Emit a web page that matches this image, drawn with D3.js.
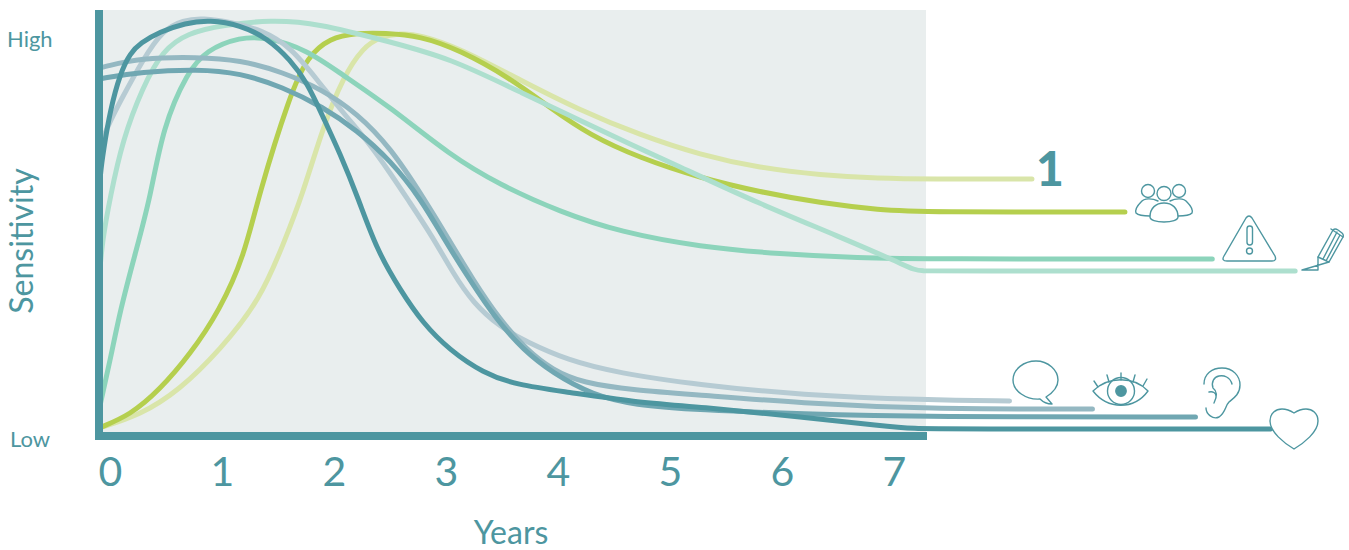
<!DOCTYPE html>
<html>
<head>
<meta charset="utf-8">
<script src="https://cdn.jsdelivr.net/npm/d3@7"></script>
<style>
  html, body { margin: 0; padding: 0; background: #fff; }
  svg { display: block; }
  text { font-family: Lato, "Open Sans", sans-serif; fill: #4d96a0; }
</style>
</head>
<body>
<svg id="chart"></svg>
<script>
const year_ticks = [0, 1, 2, 3, 4, 5, 6, 7];
const level_ticks = [0, 100];
const level_labels = ['Low', 'High'];

// years, sensitivity (Low = 0, High = 100)
const first_years = [0, .37, .72, 1.08, 1.44, 1.66, 1.81, 2.00, 2.18, 2.36, 2.51, 2.69, 2.87, 3.22, 3.76, 4.29, 4.83, 5.37, 5.90, 6.44, 6.97, 7.4, 8.33];
const first_values = [2.5, 5.75, 12, 22, 34.5, 49.5, 60.25, 77.75, 90.25, 97.75, 100.25, 101.25, 100.75, 97.5, 89.5, 82, 75.75, 70.75, 67.5, 65.75, 64.9, 64.75, 64.75];

const group_years = [0, .28, .54, .81, 1.08, 1.30, 1.42, 1.71, 1.86, 2.06, 2.30, 2.55, 2.87, 3.22, 3.67, 4.03, 4.38, 4.83, 5.37, 5.90, 6.44, 6.97, 7.38, 9.16];
const group_values = [2.5, 5.75, 12, 20.75, 32, 45.75, 60.25, 86.25, 95.25, 100, 101.25, 101.25, 100.5, 97, 90, 82.5, 75.75, 70, 65, 61.5, 58.75, 57, 56.5, 56.5];

const warning_years = [0, .10, .19, .32, .46, .57, .79, .96, 1.26, 1.50, 1.86, 2.15, 2.60, 3.13, 3.58, 4.12, 4.65, 5.37, 6.08, 6.79, 7.38, 9.94];
const warning_values = [7, 19.5, 32, 45.75, 60.25, 77.75, 91.5, 97, 100.25, 100.25, 97, 91.25, 82.75, 70.75, 63.25, 56.5, 51.5, 47.75, 46, 45, 44.75, 44.75];

const pencil_years = [0, .03, .10, .21, .39, .57, .79, 1.11, 1.53, 1.95, 2.60, 3.13, 3.76, 4.47, 5.19, 5.90, 6.62, 7.15, 7.28, 7.36, 7.45, 10.68];
const pencil_values = [39.5, 49.5, 60.25, 74.5, 87.75, 97, 101.25, 103.25, 104.5, 103.75, 99, 95, 86.5, 77, 67.75, 58.5, 50.25, 43.75, 42, 41.75, 41.75, 41.75];

const speech_years = [0, .01, .21, .39, .57, .75, .93, 1.17, 1.46, 1.71, 1.95, 2.18, 2.39, 2.60, 2.76, 2.98, 3.16, 3.34, 3.58, 3.82, 4.18, 4.63, 5.37, 6.26, 7.38, 8.13];
const speech_values = [68, 74.5, 85.25, 94.5, 102, 104.5, 105, 104, 102, 97.75, 89.5, 81.25, 74.5, 66.25, 59.5, 50.25, 41.25, 33.75, 27.75, 24, 19.5, 16.25, 13.25, 10.75, 9.5, 9.25];

const eye_years = [0, .04, .37, .88, 1.26, 1.64, 2.00, 2.30, 2.60, 2.91, 3.11, 3.34, 3.58, 3.82, 4.05, 4.32, 4.77, 5.37, 6.26, 7.38, 8.87];
const eye_values = [92.5, 92.75, 95, 95.25, 94.5, 91.5, 87, 81.25, 72.75, 59.5, 50.25, 39.5, 29.5, 22, 17, 13.75, 12, 10.75, 8.75, 7.25, 7.25];

const ear_years = [0, .04, .37, .88, 1.26, 1.64, 2.00, 2.30, 2.60, 2.88, 3.07, 3.31, 3.55, 3.79, 4.05, 4.41, 4.77, 5.37, 6.26, 7.38, 9.79];
const ear_values = [89.75, 90, 91.5, 92.25, 91.25, 87.75, 82.75, 77, 69.5, 59.5, 50.25, 39.5, 29.5, 22, 16.25, 10.75, 8.25, 7, 6, 5.25, 5.25];

const heart_years = [0, .01, .04, .10, .19, .28, .37, .54, .77, .99, 1.26, 1.50, 1.71, 1.86, 2.00, 2.15, 2.31, 2.48, 2.69, 2.89, 3.13, 3.43, 3.73, 4.18, 4.77, 5.37, 6.26, 7.0, 7.3, 7.5, 10.46];
const heart_values = [60, 65.75, 72, 82, 91.25, 96.25, 98.75, 101.5, 103.75, 104.5, 103.25, 100, 94.5, 88.75, 80.25, 71.25, 60.25, 47, 37, 28.75, 22, 16.25, 13.25, 11.5, 9, 7.75, 5.25, 3, 2.3, 2.25, 2.25];

const curves = [
    {years: first_years, values: first_values, color: '#d9e5a9'},
    {years: group_years, values: group_values, color: '#b5cf4e'},
    {years: warning_years, values: warning_values, color: '#8cd4bb'},
    {years: pencil_years, values: pencil_values, color: '#addfce'},
    {years: speech_years, values: speech_values, color: '#b6cbd3'},
    {years: eye_years, values: eye_values, color: '#94b8c2'},
    {years: ear_years, values: ear_values, color: '#70a7b2'},
    {years: heart_years, values: heart_values, color: '#4d96a0'}
];

const teal = '#4d96a0';
const width = 1349, height = 550;

const svg = d3.select('#chart').attr('width', width).attr('height', height);

const x = d3.scaleLinear().domain([0, 11]).range([99, 99 + 11 * 112]);
const y = d3.scaleLinear().domain([0, 100]).range([438, 38]);

svg.append('rect')
    .attr('x', 95).attr('y', 10)
    .attr('width', 831).attr('height', 426)
    .attr('fill', '#e9eeee');

const line = d3.line()
    .x(d => x(d[0]))
    .y(d => y(d[1]))
    .curve(d3.curveBasis);

svg.selectAll('.curve')
    .data(curves)
    .enter()
    .append('path')
    .attr('class', 'curve')
    .attr('d', d => line(d3.zip(d.years, d.values)))
    .attr('fill', 'none')
    .attr('stroke', d => d.color)
    .attr('stroke-width', 5)
    .attr('stroke-linecap', 'round');

// axes
svg.append('rect').attr('x', 95).attr('y', 10).attr('width', 8).attr('height', 430).attr('fill', teal);
svg.append('rect').attr('x', 95).attr('y', 432).attr('width', 832).attr('height', 8).attr('fill', teal);

const x_axis = d3.axisBottom(x).tickValues(year_ticks).tickSize(0).tickPadding(0).tickFormat(d3.format('d'));
const xg = svg.append('g').attr('transform', 'translate(11,455)').call(x_axis);
xg.select('.domain').remove();
xg.selectAll('text').attr('dy', 0).attr('y', 31).style('font-size', '41px');

const y_axis = d3.axisLeft(y).tickValues(level_ticks).tickSize(0).tickFormat((d, i) => level_labels[i]);
const yg = svg.append('g').attr('transform', 'translate(0,1)').call(y_axis);
yg.select('.domain').remove();
yg.selectAll('text')
    .attr('x', (d, i) => i == 0 ? 10 : 7)
    .attr('dy', '0.35em')
    .attr('text-anchor', 'start')
    .style('font-size', '22px');

svg.append('text')
    .attr('transform', 'translate(33,241) rotate(-90)')
    .attr('text-anchor', 'middle')
    .style('font-size', '32px')
    .text('Sensitivity');

svg.append('text')
    .attr('x', 511).attr('y', 544)
    .attr('text-anchor', 'middle')
    .style('font-size', '32px')
    .text('Years');

svg.append('text')
    .attr('x', 1050).attr('y', 186)
    .attr('text-anchor', 'middle')
    .style('font-size', '48px')
    .style('font-weight', '900')
    .text('1');

// icons at the line ends
const icons = svg.append('g')
    .attr('fill', 'none')
    .attr('stroke', teal)
    .attr('stroke-width', 1.4)
    .attr('stroke-linecap', 'round')
    .attr('stroke-linejoin', 'round');

// group
const people = icons.append('g');
people.append('circle').attr('cx', 1148).attr('cy', 191).attr('r', 6.5);
people.append('circle').attr('cx', 1179).attr('cy', 191).attr('r', 6.5);
people.append('path').attr('d', 'M1158,201 C1152,198 1144,198 1141,202 C1137,206 1135,210 1136,213 C1138,215 1143,216 1150,216');
people.append('path').attr('d', 'M1170,201 C1176,198 1184,198 1187,202 C1191,206 1193,210 1192,213 C1190,215 1185,216 1178,216');
people.append('path').attr('d', 'M1150,217 C1150,208 1156,203 1164,203 C1172,203 1178,208 1178,217 C1178,220 1172,222 1164,222 C1156,222 1150,220 1150,217 Z').attr('fill', '#fff');
people.append('circle').attr('cx', 1164).attr('cy', 193.5).attr('r', 7).attr('fill', '#fff');

// warning
icons.append('path').attr('d', 'M1246,218 Q1249,214 1252,218 L1275,256 Q1277,261 1272,261 L1227,261 Q1221,261 1224,256 Z');
icons.append('rect').attr('x', 1247).attr('y', 226).attr('width', 5.5).attr('height', 19).attr('rx', 2.7);
icons.append('circle').attr('cx', 1249.5).attr('cy', 251).attr('r', 3);

// pencil
icons.append('path').attr('d', 'M1302,270 L1318,270 L1318,257 L1333,230 Q1335,228 1338,230 L1342,233 Q1344,235 1343,237 L1329,262 Z');
icons.append('path').attr('d', 'M1318,257 L1329,262 M1323,259 L1337,232 M1326,261 L1340,235 M1331,229 L1343,237');

// speech
icons.append('path').attr('d', 'M1040,399 C1026,400 1013,391 1013,380 C1013,369 1024,361 1036,361 C1048,361 1058,370 1058,380 C1058,387 1054,392 1046,397 L1052,404 C1047,404 1043,402 1040,399 Z');

// eye
icons.append('path').attr('d', 'M1093,391 C1108,376 1134,376 1148,391 C1134,410 1108,410 1093,391 Z');
icons.append('circle').attr('cx', 1121).attr('cy', 391).attr('r', 13.5);
icons.append('circle').attr('cx', 1121).attr('cy', 391).attr('r', 5.2).attr('fill', teal);
icons.append('path').attr('d', 'M1121,373 L1121,380 M1107,375 L1109,382 M1135,375 L1133,382 M1094,381 L1098,387 M1147,379 L1143,386');

// ear
icons.append('path').attr('d', 'M1204,384 C1204,374 1212,368 1222,368 C1233,368 1240,376 1240,385 C1240,394 1234,398 1229,402 C1225,406 1226,412 1219,417 C1213,420 1206,414 1206,408');
icons.append('path').attr('d', 'M1232,384 C1230,377 1224,375 1219,376 C1214,377 1211,382 1213,388 C1217,391 1218,395 1214,403 M1209,392 C1213,391 1216,393 1216,396');

// heart
icons.append('path').attr('d', 'M1294,449 C1284,443 1270,432 1270,421 C1270,413 1276,409 1282,409 C1287,409 1291,411 1294,413 C1297,411 1301,409 1306,409 C1312,409 1318,413 1318,421 C1318,432 1304,443 1294,449 Z').attr('fill', '#fff');
</script>
</body>
</html>
